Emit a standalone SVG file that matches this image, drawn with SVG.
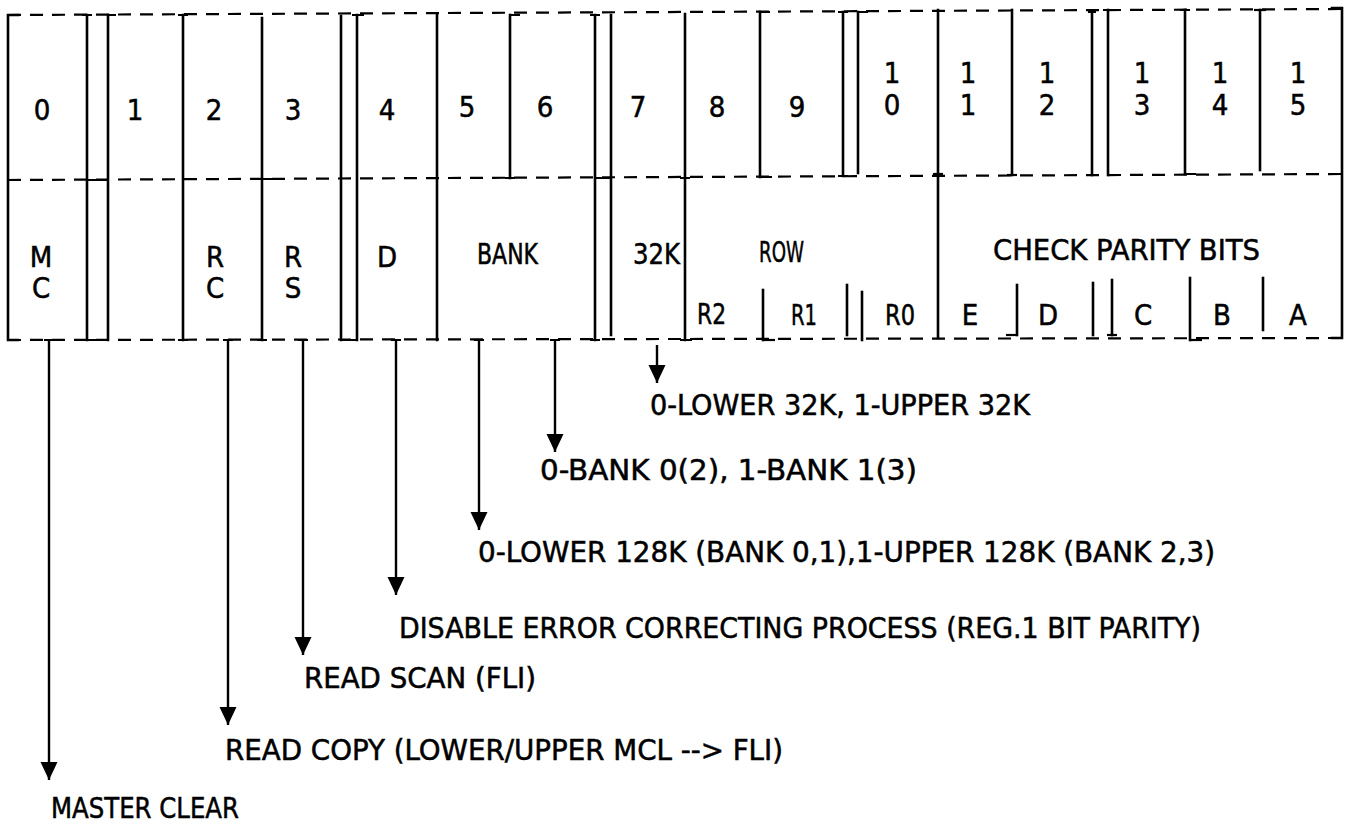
<svg xmlns="http://www.w3.org/2000/svg" width="1347" height="824" viewBox="0 0 1347 824">
<style>
.dash{stroke:#000;stroke-width:2.2;fill:none;stroke-dasharray:13 9}
.v{stroke:#000;stroke-width:2.6;fill:none;stroke-linecap:square}
.s{stroke:#000;stroke-width:2.2;fill:none}
.t{font-family:"Liberation Sans Narrow","DejaVu Sans Condensed","Liberation Sans",Arial,sans-serif;font-size:29px;fill:#000;stroke:#000;stroke-width:0.5}
.c{text-anchor:middle}
.arr{stroke:#000;stroke-width:2.4;fill:none;marker-end:url(#ah)}
</style>
<defs>
<marker id="ah" markerUnits="userSpaceOnUse" markerWidth="20" markerHeight="20" viewBox="0 -10 20 20" refX="18" refY="0" orient="auto">
<path d="M0,-8.5 L18,0 L0,8.5 z" fill="#000"/>
</marker>
</defs>
<rect width="1347" height="824" fill="#fff"/>

<g id="frame">
<path class="dash" d="M8,15 L1342,9"/>
<path class="dash" d="M8,180 L1342,174"/>
<path class="dash" d="M8,340 L1342,338"/>
<path class="v" d="M18,15 H8 V340 H18"/>
<path class="v" d="M87,15 V340"/>
<path class="v" d="M108,15 V340"/>
<path class="s" d="M87,180 H108 M87,340 H108 M82,15 H92 M108,15 H116"/>
<path class="v" d="M183,15 V340"/>
<path class="s" d="M178,15 H188 M178,340 H188"/>
<path class="v" d="M262,18 V340"/>
<path class="s" d="M262,179 H285 M257,340 H267"/>
<path class="v" d="M341,16 V340"/>
<path class="v" d="M357,15 V340"/>
<path class="s" d="M341,340 H357 M352,15 H364"/>
<path class="v" d="M437,15 V340"/>
<path class="v" d="M510,15 V178"/>
<path class="s" d="M510,15 H520 M505,178 H515"/>
<path class="v" d="M595,15 V340"/>
<path class="v" d="M611,15 V335"/>
<path class="s" d="M595,178 H611 M590,340 H600 M590,15 H600"/>
<path class="v" d="M685,14 V340"/>
<path class="s" d="M680,340 H692 M680,178 H690"/>
<path class="v" d="M760,12 V177"/>
<path class="s" d="M760,12 H770 M760,177 H772"/>
<path class="v" d="M843,12 V176"/>
<path class="v" d="M858,12 V173"/>
<path class="s" d="M838,12 H848 M838,176 H848 M858,12 H868"/>
<path class="v" d="M938,10 V338"/>
<path class="s" d="M933,174 H943"/>
<path class="v" d="M1012,10 V175"/>
<path class="s" d="M1007,175 H1017"/>
<path class="v" d="M1092,12 V175"/>
<path class="v" d="M1108,10 V175"/>
<path class="s" d="M1088,12 H1096 M1108,175 H1118 M1103,10 H1113"/>
<path class="v" d="M1185,10 V174"/>
<path class="s" d="M1185,174 H1196 M1180,10 H1190"/>
<path class="v" d="M1260,10 V170"/>
<path class="s" d="M1254,10 H1266"/>
<path class="v" d="M1332,8 H1342 V338 H1332"/>
<path class="v" d="M763,290 V340"/>
<path class="s" d="M763,340 H775"/>
<path class="v" d="M847,285 V335"/>
<path class="v" d="M862,292 V340"/>
<path class="v" d="M1017,285 V335"/>
<path class="s" d="M1006,335 H1017"/>
<path class="v" d="M1093,283 V335"/>
<path class="v" d="M1112,280 V335"/>
<path class="s" d="M1107,335 H1117"/>
<path class="v" d="M1190,278 V340"/>
<path class="s" d="M1190,340 H1202"/>
<path class="v" d="M1263,278 V330"/>
</g>

<g id="bit-numbers" class="t c">
<text x="42" y="120">0</text>
<text x="135" y="120">1</text>
<text x="214" y="120">2</text>
<text x="293" y="120">3</text>
<text x="387" y="120">4</text>
<text x="467" y="117">5</text>
<text x="545" y="117">6</text>
<text x="638" y="117">7</text>
<text x="717" y="117">8</text>
<text x="797" y="117">9</text>
<text x="892" y="83">1</text><text x="892" y="115">0</text>
<text x="968" y="83">1</text><text x="968" y="115">1</text>
<text x="1047" y="83">1</text><text x="1047" y="115">2</text>
<text x="1142" y="83">1</text><text x="1142" y="115">3</text>
<text x="1220" y="83">1</text><text x="1220" y="115">4</text>
<text x="1298" y="83">1</text><text x="1298" y="115">5</text>
</g>

<g id="field-MC" class="t c"><text x="41" y="267">M</text><text x="41" y="298">C</text></g>
<g id="field-RC" class="t c"><text x="215" y="267">R</text><text x="215" y="298">C</text></g>
<g id="field-RS" class="t c"><text x="293" y="267">R</text><text x="293" y="298">S</text></g>
<g id="field-D" class="t c"><text x="387" y="267">D</text></g>
<g id="field-BANK" class="t"><text x="477" y="264" textLength="61" lengthAdjust="spacingAndGlyphs">BANK</text></g>
<g id="field-32K" class="t"><text x="633" y="264" textLength="47" lengthAdjust="spacingAndGlyphs">32K</text></g>
<g id="field-ROW" class="t">
<text x="759" y="262" textLength="45" lengthAdjust="spacingAndGlyphs">ROW</text>
<text x="697" y="324" textLength="29" lengthAdjust="spacingAndGlyphs">R2</text>
<text x="791" y="325" textLength="26" lengthAdjust="spacingAndGlyphs">R1</text>
<text x="885" y="325" textLength="30" lengthAdjust="spacingAndGlyphs">R0</text>
</g>
<g id="field-CHECK" class="t">
<text x="993" y="260" textLength="267" lengthAdjust="spacingAndGlyphs">CHECK PARITY BITS</text>
<text x="970" y="325" text-anchor="middle">E</text>
<text x="1048" y="325" text-anchor="middle">D</text>
<text x="1143" y="325" text-anchor="middle">C</text>
<text x="1222" y="325" text-anchor="middle">B</text>
<text x="1298" y="325" text-anchor="middle">A</text>
</g>

<g id="connectors">
<path class="arr" d="M49,340 V780"/>
<path class="arr" d="M228,340 V725"/>
<path class="arr" d="M303,340 V655"/>
<path class="arr" d="M396,340 V595"/>
<path class="arr" d="M479,340 V530"/>
<path class="arr" d="M555,340 V452"/>
<path class="arr" d="M657,345 V383"/>
<path class="s" d="M44,340 H54 M223,340 H233 M298,340 H308 M391,340 H401 M474,340 H484 M550,340 H560"/>
</g>

<g id="note-32K" class="t"><text x="650" y="415" textLength="380" lengthAdjust="spacingAndGlyphs">0-LOWER 32K, 1-UPPER 32K</text></g>
<g id="note-BANK" class="t"><text x="540" y="480" textLength="377" lengthAdjust="spacingAndGlyphs">0-BANK 0(2), 1-BANK 1(3)</text></g>
<g id="note-128K" class="t"><text x="478" y="562" textLength="737" lengthAdjust="spacingAndGlyphs">0-LOWER 128K (BANK 0,1),1-UPPER 128K (BANK 2,3)</text></g>
<g id="note-D" class="t"><text x="399" y="638" textLength="802" lengthAdjust="spacingAndGlyphs">DISABLE ERROR CORRECTING PROCESS (REG.1 BIT PARITY)</text></g>
<g id="note-RS" class="t"><text x="304" y="688" textLength="232" lengthAdjust="spacingAndGlyphs">READ SCAN (FLI)</text></g>
<g id="note-RC" class="t"><text x="225" y="760" textLength="558" lengthAdjust="spacingAndGlyphs">READ COPY (LOWER/UPPER MCL --&gt; FLI)</text></g>
<g id="note-MC" class="t"><text x="51" y="818" textLength="188" lengthAdjust="spacingAndGlyphs">MASTER CLEAR</text></g>
</svg>
